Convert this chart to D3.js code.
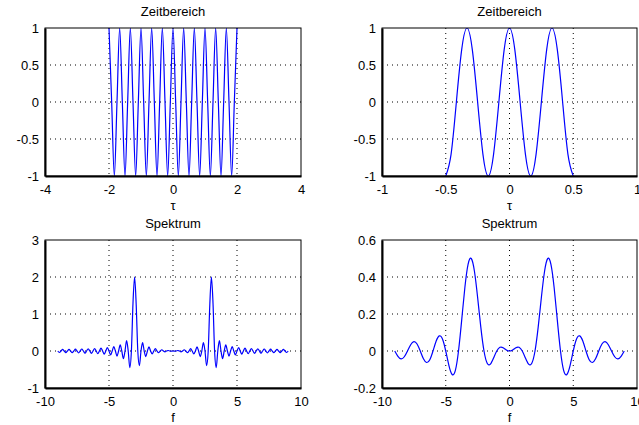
<!DOCTYPE html>
<html>
<head>
<meta charset="utf-8">
<script src="https://cdn.jsdelivr.net/npm/d3@7"></script>
<style>
  body { margin: 0; background: #fff; }
  text { font-family: "Liberation Sans", Arial, Helvetica, sans-serif; font-size: 13px; fill: #000; }
</style>
</head>
<body>
<div id="chart"></div>
<script>
// sample grids (x positions of the read-off points)
var tauLong = d3.range(-24, 25).map(function(k) { return k / 12; });   // -2 .. 2
var tauShort = d3.range(-12, 13).map(function(k) { return k / 24; });  // -0.5 .. 0.5
var fLong = d3.range(-72, 73).map(function(k) { return k / 8; });      // -9 .. 9
var fShort = d3.range(-36, 37).map(function(k) { return k / 4; });     // -9 .. 9

// time signal, long window (values read at tauLong)
var zeitLong = [1, 0, -1, 0, 1, 0, -1, 0, 1, 0, -1, 0, 1, 0, -1, 0, 1, 0, -1, 0, 1, 0, -1, 0,
                1, 0, -1, 0, 1, 0, -1, 0, 1, 0, -1, 0, 1, 0, -1, 0, 1, 0, -1, 0, 1, 0, -1, 0, 1];

// time signal, short window (values read at tauShort)
var zeitShort = [-1, -0.707, 0, 0.707, 1, 0.707, 0, -0.707, -1, -0.707, 0, 0.707, 1,
                 0.707, 0, -0.707, -1, -0.707, 0, 0.707, 1, 0.707, 0, -0.707, -1];

// spectrum of the long window (values read at fLong)
var spekLong = [0, -0.041, 0, 0.042, 0, -0.044, 0, 0.045, 0, -0.047, 0, 0.049, 0, -0.052, 0, 0.054,
                0, -0.057, 0, 0.060, 0, -0.064, 0, 0.068, 0, -0.073, 0, 0.079, 0, -0.086, 0, 0.095,
                0, -0.105, 0, 0.119, 0, -0.137, 0, 0.164, 0, -0.205, 0, 0.279, 0, -0.449, 0, 1.299,
                2, 1.246, 0, -0.396, 0, 0.225, 0, -0.151, 0, 0.109, 0, -0.081, 0, 0.062, 0, -0.046,
                0, 0.034, 0, -0.023, 0, 0.013, 0, -0.004,
                0,
                -0.004, 0, 0.013, 0, -0.023, 0, 0.034, 0, -0.046, 0, 0.062, 0, -0.081, 0, 0.109, 0,
                -0.151, 0, 0.225, 0, -0.396, 0, 1.246, 2, 1.299, 0, -0.449, 0, 0.279, 0, -0.205, 0,
                0.164, 0, -0.137, 0, 0.119, 0, -0.105, 0, 0.095, 0, -0.086, 0, 0.079, 0, -0.073, 0,
                0.068, 0, -0.064, 0, 0.060, 0, -0.057, 0, 0.054, 0, -0.052, 0, 0.049, 0, -0.047, 0,
                0.045, 0, -0.044, 0, 0.042, 0, -0.041, 0];

// spectrum of the short window (values read at fShort)
var spekShort = [0, -0.029, -0.043, -0.031, 0, 0.034, 0.051, 0.038, 0, -0.042, -0.062, -0.047,
                 0, 0.054, 0.082, 0.064, 0, -0.079, -0.127, -0.106, 0, 0.167, 0.343, 0.468,
                 0.5, 0.431, 0.289, 0.129, 0, -0.066, -0.071, -0.038, 0, 0.020, 0.018, 0.006,
                 0,
                 0.006, 0.018, 0.020, 0, -0.038, -0.071, -0.066, 0, 0.129, 0.289, 0.431, 0.5,
                 0.468, 0.343, 0.167, 0, -0.106, -0.127, -0.079, 0, 0.064, 0.082, 0.054, 0,
                 -0.047, -0.062, -0.042, 0, 0.038, 0.051, 0.034, 0, -0.031, -0.043, -0.029, 0];

// tick labels
var ticksTauLong = [-4, -2, 0, 2, 4];
var ticksTauShort = [-1, -0.5, 0, 0.5, 1];
var ticksF = [-10, -5, 0, 5, 10];
var ticksZeit = [-1, -0.5, 0, 0.5, 1];
var ticksSpekLong = [-1, 0, 1, 2, 3];
var ticksSpekShort = [-0.2, 0, 0.2, 0.4, 0.6];

var W = 639, H = 425;
var cols = [{left: 45, right: 301}, {left: 382, right: 637}],
    rows = [{top: 28, bottom: 176}, {top: 240, bottom: 388}];

var panels = [
  {col: 0, row: 0, title: "Zeitbereich", xlabel: "\u03c4", xs: tauLong, ys: zeitLong,
   xTicks: ticksTauLong, yTicks: ticksZeit, curve: d3.curveMonotoneX},
  {col: 1, row: 0, title: "Zeitbereich", xlabel: "\u03c4", xs: tauShort, ys: zeitShort,
   xTicks: ticksTauShort, yTicks: ticksZeit, curve: d3.curveNatural},
  {col: 0, row: 1, title: "Spektrum", xlabel: "f", xs: fLong, ys: spekLong,
   xTicks: ticksF, yTicks: ticksSpekLong, curve: d3.curveMonotoneX},
  {col: 1, row: 1, title: "Spektrum", xlabel: "f", xs: fShort, ys: spekShort,
   xTicks: ticksF, yTicks: ticksSpekShort, curve: d3.curveNatural}
];

var svg = d3.select("#chart")
    .append("svg")
        .attr("width", W)
        .attr("height", H);

svg.append("rect")
    .attr("width", W)
    .attr("height", H)
    .attr("fill", "#fff");

panels.forEach(function(p, i) {
    var c = cols[p.col], r = rows[p.row],
        w = c.right - c.left,
        h = r.bottom - r.top;

    var x = d3.scaleLinear()
        .domain([p.xTicks[0], p.xTicks[p.xTicks.length - 1]])
        .range([0, w]);
    var y = d3.scaleLinear()
        .domain([p.yTicks[0], p.yTicks[p.yTicks.length - 1]])
        .range([h, 0]);

    var g = svg.append("g")
        .attr("transform", "translate(" + c.left + "," + r.top + ")");

    g.append("clipPath")
        .attr("id", "clip" + i)
        .append("rect")
            .attr("width", w)
            .attr("height", h);

    // dotted grid at inner ticks
    g.selectAll(".gx")
        .data(p.xTicks.slice(1, -1))
        .enter().append("line")
            .attr("x1", function(d) { return x(d); })
            .attr("x2", function(d) { return x(d); })
            .attr("y1", 0)
            .attr("y2", h)
            .attr("stroke", "#000")
            .attr("stroke-width", 1)
            .attr("stroke-dasharray", "1,4");

    g.selectAll(".gy")
        .data(p.yTicks.slice(1, -1))
        .enter().append("line")
            .attr("x1", 0)
            .attr("x2", w)
            .attr("y1", function(d) { return y(d); })
            .attr("y2", function(d) { return y(d); })
            .attr("stroke", "#000")
            .attr("stroke-width", 1)
            .attr("stroke-dasharray", "1,4");

    var line = d3.line()
        .x(function(d, j) { return x(p.xs[j]); })
        .y(function(d) { return y(d); })
        .curve(p.curve);

    g.append("path")
        .datum(p.ys)
        .attr("clip-path", "url(#clip" + i + ")")
        .attr("d", line)
        .attr("fill", "none")
        .attr("stroke", "#0000ff")
        .attr("stroke-width", 1.2);

    // axes box
    g.append("rect")
        .attr("width", w)
        .attr("height", h)
        .attr("fill", "none")
        .attr("stroke", "#000")
        .attr("stroke-width", 1);

    var xAxis = g.append("g")
        .attr("transform", "translate(0," + h + ")")
        .call(d3.axisBottom(x).tickValues(p.xTicks).tickSize(0).tickPadding(9)
            .tickFormat(function(d) { return String(d); }));
    xAxis.select(".domain").attr("stroke-width", 2);

    var yAxis = g.append("g")
        .call(d3.axisLeft(y).tickValues(p.yTicks).tickSize(0).tickPadding(6)
            .tickFormat(function(d) { return String(d); }));
    yAxis.select(".domain").attr("stroke-width", 2);

    g.append("text")
        .attr("x", w / 2)
        .attr("y", -12)
        .attr("text-anchor", "middle")
        .text(p.title);

    g.append("text")
        .attr("x", w / 2)
        .attr("y", h + 34)
        .attr("text-anchor", "middle")
        .text(p.xlabel);
});
</script>
</body>
</html>
